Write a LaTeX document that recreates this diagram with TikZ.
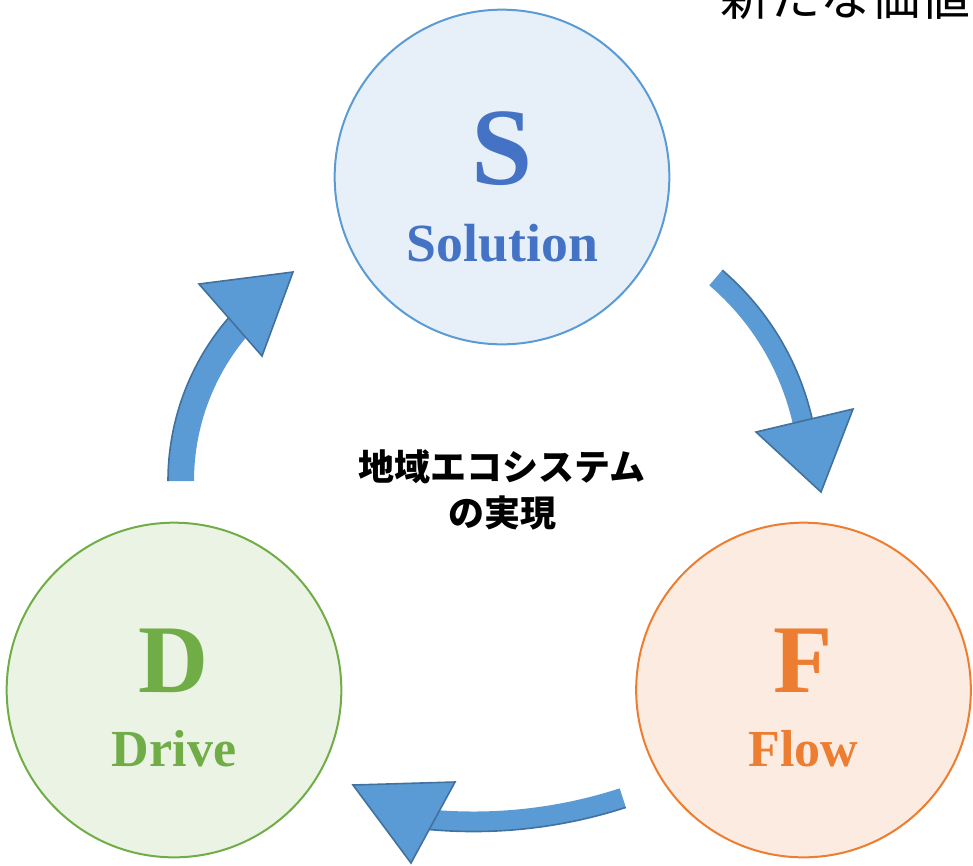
\documentclass[tikz,border=0pt]{standalone}
\usepackage{fontspec}
\setmainfont{Liberation Serif}
\newfontfamily\cjk{Noto Sans CJK JP}
\usetikzlibrary{calc}
\definecolor{sblue}{HTML}{4472C4}
\definecolor{sline}{HTML}{5B9BD5}
\definecolor{sfill}{HTML}{E7F0F9}
\definecolor{dgreen}{HTML}{70AD47}
\definecolor{dfill}{HTML}{EBF3E4}
\definecolor{forange}{HTML}{ED7D31}
\definecolor{ffill}{HTML}{FBEBE1}
\definecolor{afill}{HTML}{5B9BD5}
\definecolor{aline}{HTML}{41719C}
\tikzset{
  circ/.style={circle, line width=1.5pt, minimum size=251pt, inner sep=0pt},
  bigletter/.style={anchor=base, inner sep=0pt, font=\bfseries\fontsize{72.75}{72.75}\selectfont},
  word/.style={anchor=base, inner sep=0pt, font=\bfseries\fontsize{39}{39}\selectfont},
  band/.style={fill=afill, draw=none},
  bandedge/.style={draw=aline, line width=1.2pt},
  head/.style={fill=afill, draw=aline, line width=1.2pt, line join=miter},
}
\begin{document}
\begin{tikzpicture}[x=0.75pt, y=-0.75pt]
\useasboundingbox (0,0) rectangle (973,865);
\clip (0,0) rectangle (973,865);

% circles
\node[circ, draw=sline, fill=sfill] (S) at (502,177) {};
\node[circ, draw=forange, fill=ffill] (F) at (803.5,690) {};
\node[circ, draw=dgreen, fill=dfill] (D) at (174,690) {};

\node[bigletter, text=sblue, font=\bfseries\fontsize{82.5}{82.5}\selectfont] (Sl) at (502,184) {S};
\node[word, text=sblue, font=\bfseries\fontsize{40.3}{40.3}\selectfont] (Sw) at (502.5,261) {Solution};
\node[bigletter, text=forange] (Fl) at (803,692.5) {F};
\node[word, text=forange] (Fw) at (803.5,766.5) {Flow};
\node[bigletter, text=dgreen] (Dl) at (173.5,692.5) {D};
\node[word, text=dgreen] (Dw) at (174,766.5) {Drive};

% centre text
\node[align=center, inner sep=0pt, font=\cjk\bfseries\fontsize{27}{34.2}\selectfont] (mid) at (502,490) {地域エコシステム\\の実現};

% top text (cut by the edge, as in the reference)
\node[anchor=base west, inner sep=0pt, font=\cjk\fontsize{37.5}{37.5}\selectfont] (top) at (720,15) {新たな価値};

% arrow centres
\coordinate (cL) at (418,481);
\coordinate (cR) at (543,480);
\coordinate (cB) at (473.5,338.5);

% left arrow (D -> S)
\path[band] ([shift={(cL)}]180:224) -- ([shift={(cL)}]180:250) arc[start angle=180, end angle=221, radius=250]
  -- ([shift={(cL)}]221:224) arc[start angle=221, end angle=180, radius=224] -- cycle;
\draw[bandedge] ([shift={(cL)}]180:250) arc[start angle=180, end angle=221, radius=250];
\coordinate (hL1) at (199,284);
\coordinate (hL2) at (293,272);
\coordinate (hL3) at (262,356);
\path[head] (hL1) -- (hL2) -- (hL3) -- cycle;

% right arrow (S -> F)
\path[band] ([shift={(cR)}]-49.5:256) -- ([shift={(cR)}]-49.5:276) arc[start angle=-49.5, end angle=-11, radius=276]
  -- ([shift={(cR)}]-11:256) arc[start angle=-11, end angle=-49.5, radius=256] -- cycle;
\draw[bandedge] ([shift={(cR)}]-49.5:276) arc[start angle=-49.5, end angle=-11, radius=276];
\coordinate (hR1) at (756,432);
\coordinate (hR2) at (853,409);
\coordinate (hR3) at (821,492);
\path[head] (hR1) -- (hR2) -- (hR3) -- cycle;

% bottom arrow (F -> D)
\path[band] ([shift={(cB)}]72:473) -- ([shift={(cB)}]72:493) arc[start angle=72, end angle=97, radius=493]
  -- ([shift={(cB)}]97:473) arc[start angle=97, end angle=72, radius=473] -- cycle;
\draw[bandedge] ([shift={(cB)}]72:493) arc[start angle=72, end angle=97, radius=493];
\coordinate (hB1) at (353,785);
\coordinate (hB2) at (455,782);
\coordinate (hB3) at (411,863);
\path[head] (hB1) -- (hB2) -- (hB3) -- cycle;
\end{tikzpicture}
\end{document}
